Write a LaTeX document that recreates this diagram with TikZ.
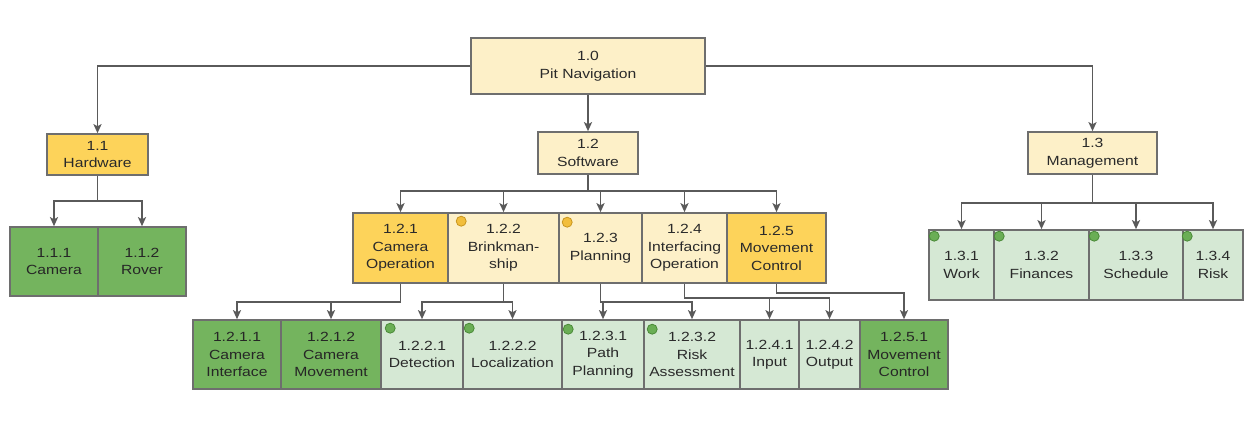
\documentclass[tikz,border=0pt]{standalone}
\usepackage{fontspec}
\setmainfont{Liberation Sans}[FakeStretch=1.18]
\usetikzlibrary{arrows.meta}
\definecolor{paleyellow}{HTML}{FDF0C8}
\definecolor{amber}{HTML}{FDD35A}
\definecolor{leaf}{HTML}{74B45E}
\definecolor{paleleaf}{HTML}{D5E8D4}
\definecolor{edgegray}{HTML}{6E6E6E}
\definecolor{linkgray}{HTML}{5A5A5A}
\definecolor{inkgray}{HTML}{2A2A2A}
\definecolor{dotamber}{HTML}{F2BE3C}
\definecolor{dotamberline}{HTML}{C9961E}
\definecolor{dotleaf}{HTML}{6AAE55}
\definecolor{dotleafline}{HTML}{4A8A38}
\tikzset{
  bx/.style 2 args={draw=edgegray, line width=1.6pt, align=center, inner sep=0pt,
    minimum width=#1, minimum height=#2, text=inkgray,
    font=\fontsize{13.3}{17.5}\selectfont},
  pale/.style={fill=paleyellow},
  warm/.style={fill=amber},
  deep/.style={fill=leaf, text=black!85},
  light/.style={fill=paleleaf},
  link/.style={draw=linkgray, line width=1.8pt, -{Stealth[length=9pt,width=8pt,inset=2pt]}},
  bare/.style={draw=linkgray, line width=1.8pt},
  amberdot/.style={circle, fill=dotamber, draw=dotamberline, line width=0.8pt, inner sep=0pt, minimum size=10pt},
  leafdot/.style={circle, fill=dotleaf, draw=dotleafline, line width=0.8pt, inner sep=0pt, minimum size=10pt}
}
\begin{document}
\begin{tikzpicture}[x=1pt, y=-1pt]
\useasboundingbox[fill=white] (0,0) rectangle (1247,427);

% top level
\node[bx={234pt}{56pt}, pale] (n10) at (588,66) {1.0\\Pit Navigation};

% second level
\node[bx={101pt}{41pt}, warm] (n11) at (97.5,154.5) {1.1\\Hardware};
\node[bx={100pt}{42pt}, pale] (n12) at (588,153) {1.2\\Software};
\node[bx={129pt}{42pt}, pale] (n13) at (1092.5,153) {1.3\\Management};

% hardware items
\node[bx={88pt}{69pt}, deep] (n111) at (54,261.5) {1.1.1\\Camera};
\node[bx={88pt}{69pt}, deep] (n112) at (142,261.5) {1.1.2\\Rover};

% software items
\node[bx={95pt}{70pt}, warm] (n121) at (400.5,248) {1.2.1\\Camera\\Operation};
\node[bx={111pt}{70pt}, pale] (n122) at (503.5,248) {1.2.2\\Brinkman-\\ship};
\node[bx={83pt}{70pt}, pale] (n123) at (600.5,248) {1.2.3\\Planning};
\node[bx={85pt}{70pt}, pale] (n124) at (684.5,248) {1.2.4\\Interfacing\\Operation};
\node[bx={99pt}{70pt}, warm] (n125) at (776.5,248) {1.2.5\\Movement\\Control};

% software sub-items
\node[bx={88pt}{69pt}, deep] (n1211) at (237,354.5) {1.2.1.1\\Camera\\Interface};
\node[bx={100pt}{69pt}, deep] (n1212) at (331,354.5) {1.2.1.2\\Camera\\Movement};
\node[bx={82pt}{69pt}, light] (n1221) at (422,354.5) {1.2.2.1\\Detection};
\node[bx={99pt}{69pt}, light] (n1222) at (512.5,354.5) {1.2.2.2\\Localization};
\node[bx={82pt}{69pt}, light] (n1231) at (603,354.5) {1.2.3.1\\Path\\Planning};
\node[bx={96pt}{69pt}, light] (n1232) at (692,354.5) {1.2.3.2\\Risk\\Assessment};
\node[bx={59pt}{69pt}, light] (n1241) at (769.5,354.5) {1.2.4.1\\Input};
\node[bx={61pt}{69pt}, light] (n1242) at (829.5,354.5) {1.2.4.2\\Output};
\node[bx={88pt}{69pt}, deep] (n1251) at (904,354.5) {1.2.5.1\\Movement\\Control};

% management items
\node[bx={65pt}{70pt}, light] (n131) at (961.5,265) {1.3.1\\Work};
\node[bx={95pt}{70pt}, light] (n132) at (1041.5,265) {1.3.2\\Finances};
\node[bx={94pt}{70pt}, light] (n133) at (1136,265) {1.3.3\\Schedule};
\node[bx={60pt}{70pt}, light] (n134) at (1213,265) {1.3.4\\Risk};

% status markers
\node[amberdot] (d122) at ([shift={(14,9)}]n122.north west) {};
\node[amberdot] (d123) at ([shift={(9,10)}]n123.north west) {};
\node[leafdot] (d1221) at ([shift={(10,9)}]n1221.north west) {};
\node[leafdot] (d1222) at ([shift={(7,9)}]n1222.north west) {};
\node[leafdot] (d1231) at ([shift={(7,10)}]n1231.north west) {};
\node[leafdot] (d1232) at ([shift={(9,10)}]n1232.north west) {};
\node[leafdot] (d131) at ([shift={(6,7)}]n131.north west) {};
\node[leafdot] (d132) at ([shift={(6,7)}]n132.north west) {};
\node[leafdot] (d133) at ([shift={(6,7)}]n133.north west) {};
\node[leafdot] (d134) at ([shift={(5,7)}]n134.north west) {};

% connectors from the top
\draw[link] (n10.west) -| (n11.north);
\draw[link] (n10.south) -- (n12.north);
\draw[link] (n10.east) -| (n13.north);

% hardware
\draw[link] (n11.south) -- (n11.south |- 0,201) -| (n111.north);
\draw[link] (n11.south |- 0,201) -| (n112.north);

% software
\draw[bare] (n12.south) -- (n12.south |- 0,191);
\foreach \c in {n121,n122,n123,n124,n125}
  \draw[link] (n12.south |- 0,191) -| (\c.north);

% management
\draw[bare] (n13.south) -- (n13.south |- 0,203);
\foreach \c in {n131,n132,n133,n134}
  \draw[link] (n13.south |- 0,203) -| (\c.north);

% software sub-branches
\draw[link] (n121.south) -- (n121.south |- 0,302) -| (n1211.north);
\draw[link] (n121.south |- 0,302) -| (n1212.north);
\draw[link] (n122.south) -- (n122.south |- 0,302) -| (n1221.north);
\draw[link] (n122.south |- 0,302) -| (n1222.north);
\draw[link] (n123.south) -- (n123.south |- 0,302) -| (n1231.north);
\draw[link] (n123.south |- 0,302) -| (n1232.north);
\draw[link] (n124.south) -- (n124.south |- 0,298) -| (n1241.north);
\draw[link] (n124.south |- 0,298) -| (n1242.north);
\draw[link] (n125.south) -- (n125.south |- 0,293) -| (n1251.north);
\end{tikzpicture}
\end{document}
